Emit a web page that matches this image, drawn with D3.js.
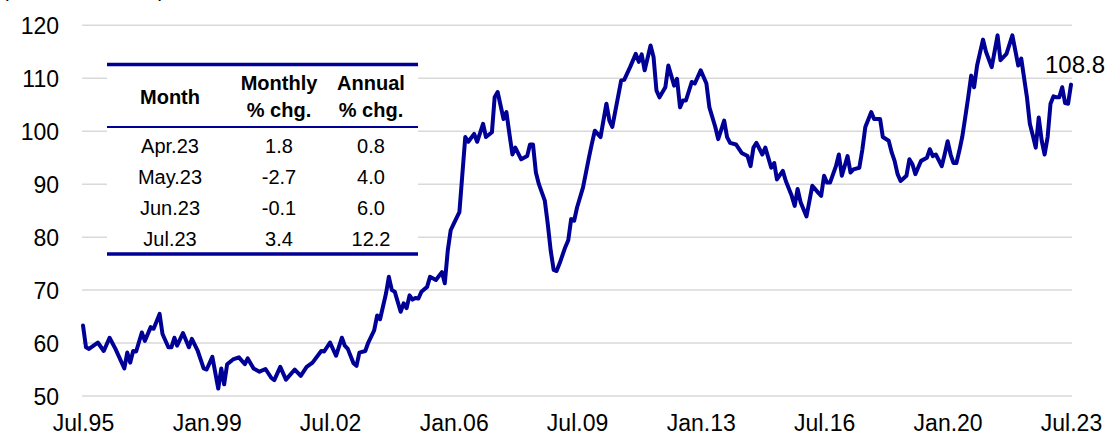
<!DOCTYPE html>
<meta charset="utf-8">
<script src="https://d3js.org/d3.v7.min.js"></script>
<style>
body { margin: 0; background-color: white; }
text { font-family: "Liberation Sans", Arial, sans-serif; fill: #000; }
</style>
<div id="chart"></div>
<script>
// monthly index (turning points)
var months = [
  "1995-07","1995-08","1995-09","1995-12","1996-02","1996-04","1996-06","1996-09","1996-10","1996-11","1996-12",
  "1997-01","1997-03","1997-04","1997-06","1997-07","1997-09","1997-10","1997-12",
  "1998-01","1998-02","1998-03","1998-05","1998-07","1998-08","1998-10","1998-12",
  "1999-01","1999-03","1999-05","1999-06","1999-07","1999-08","1999-10","1999-12",
  "2000-02","2000-03","2000-05","2000-07","2000-09","2000-11","2000-12",
  "2001-02","2001-04","2001-07","2001-09","2001-11",
  "2002-01","2002-04","2002-05","2002-07","2002-09","2002-11","2002-12",
  "2003-01","2003-03","2003-04","2003-05","2003-07","2003-08","2003-10","2003-11","2003-12",
  "2004-02","2004-03","2004-04","2004-05","2004-07","2004-08","2004-09","2004-10","2004-11","2004-12",
  "2005-01","2005-02","2005-04","2005-05","2005-07","2005-09","2005-10","2005-11","2005-12",
  "2006-01","2006-03","2006-04","2006-05","2006-06","2006-08","2006-09","2006-11","2006-12",
  "2007-02","2007-03","2007-04","2007-06","2007-07","2007-08","2007-09","2007-10","2007-12",
  "2008-02","2008-03","2008-04","2008-05","2008-06","2008-08","2008-09","2008-10","2008-11","2008-12",
  "2009-01","2009-03","2009-04","2009-05","2009-06","2009-07","2009-09","2009-11","2009-12",
  "2010-01","2010-03","2010-05","2010-06","2010-07","2010-10","2010-11",
  "2011-01","2011-03","2011-04","2011-05","2011-06","2011-08","2011-09","2011-10","2011-11",
  "2012-01","2012-02","2012-04","2012-05","2012-06","2012-07","2012-08","2012-10","2012-11",
  "2013-01","2013-03","2013-04","2013-06","2013-07","2013-09","2013-10","2013-11",
  "2014-01","2014-03","2014-05","2014-06","2014-07","2014-08","2014-10","2014-11",
  "2015-01","2015-02","2015-03","2015-05","2015-06","2015-08","2015-09","2015-10","2015-11",
  "2016-01","2016-03","2016-05","2016-06","2016-07","2016-08","2016-09","2016-11","2016-12",
  "2017-01","2017-03","2017-04","2017-05","2017-07","2017-08","2017-09","2017-11","2017-12",
  "2018-02","2018-03","2018-05","2018-06","2018-07","2018-08","2018-09","2018-11","2018-12",
  "2019-01","2019-02","2019-03","2019-04","2019-06","2019-07","2019-08","2019-09","2019-11","2019-12",
  "2020-01","2020-02","2020-03","2020-04","2020-05","2020-06","2020-07","2020-08","2020-09","2020-10","2020-11",
  "2021-01","2021-02","2021-04","2021-06","2021-07","2021-09","2021-11",
  "2022-01","2022-02","2022-04","2022-05","2022-06","2022-07","2022-08","2022-09","2022-10","2022-11","2022-12",
  "2023-01","2023-02","2023-03","2023-04","2023-05","2023-06","2023-07"
];
var index = [
  63.3,59.2,58.9,60.1,58.5,61.0,58.9,55.2,58.2,56.3,58.5,
  58.4,62.0,60.4,63.0,62.7,65.5,61.7,59.2,
  59.2,61.0,59.5,61.9,59.2,60.8,58.5,55.2,
  55.0,57.4,51.4,55.2,52.2,56.0,56.9,57.3,
  56.0,57.1,55.2,54.6,55.1,53.4,53.0,
  55.5,53.1,55.0,53.8,55.5,
  56.3,58.5,58.4,60.1,57.6,61.0,59.5,
  58.9,56.2,55.7,58.2,58.5,60.1,62.4,65.2,64.5,
  69.4,72.5,70.0,69.7,65.9,67.5,66.6,69.0,68.2,68.5,
  68.4,69.7,70.6,72.5,71.9,73.4,71.3,77.5,81.3,
  82.5,84.7,91.9,98.9,98.0,99.5,98.0,101.4,98.9,
  99.8,106.4,107.4,102.3,103.6,99.5,95.6,96.9,94.7,
  95.3,97.5,97.5,92.2,90.0,86.9,82.5,77.5,73.8,73.6,
  75.0,78.1,79.4,83.4,83.1,85.6,89.4,95.0,97.6,
  100.1,98.9,105.2,102.0,100.8,109.6,109.7,
  112.1,114.6,113.1,114.5,111.5,116.2,114.0,107.7,106.4,
  108.3,112.4,108.6,109.9,104.5,105.8,105.8,109.3,109.0,
  111.5,109.0,104.5,100.8,98.5,102.0,98.9,97.8,
  97.5,95.9,95.3,93.4,96.9,97.8,95.6,96.9,
  93.1,94.0,90.9,92.5,90.6,87.8,85.9,89.1,86.6,
  83.9,89.7,88.4,87.8,91.6,90.3,90.3,93.4,95.6,
  91.6,95.3,92.2,92.8,93.1,96.5,100.8,103.6,102.3,
  102.3,98.9,98.2,96.0,94.4,91.9,90.6,91.6,94.7,
  93.8,91.9,93.1,94.4,95.0,96.6,95.3,95.6,93.4,95.6,
  98.1,95.6,94.0,94.0,96.3,99.0,102.6,106.4,110.5,108.3,112.4,
  117.3,115.0,112.1,118.1,113.4,114.6,118.1,
  112.4,113.7,106.4,101.4,99.2,96.9,102.6,98.2,95.6,98.9,105.2,
  106.6,106.4,106.4,108.3,105.3,105.2,108.8
];

var xTickMonths = ["1995-07","1999-01","2002-07","2006-01","2009-07","2013-01","2016-07","2020-01","2023-07"];
var xTickLabels = ["Jul.95","Jan.99","Jul.02","Jan.06","Jul.09","Jan.13","Jul.16","Jan.20","Jul.23"];
var yTicks = [50, 60, 70, 80, 90, 100, 110, 120];

var tableHeader = [["Month"], ["Monthly", "% chg."], ["Annual", "% chg."]];
var tableMonths = ["Apr.23", "May.23", "Jun.23", "Jul.23"];
var tableMonthly = ["1.8", "-2.7", "-0.1", "3.4"];
var tableAnnual = ["0.8", "4.0", "6.0", "12.2"];

var lastLabel = "108.8";

var width = 1109, height = 436;
var navy = "#000096";
var parse = d3.timeParse("%Y-%m");

var data = months.map(function(m, i) { return {date: parse(m), value: index[i]}; });

var svg = d3.select("#chart").append("svg")
    .attr("width", width)
    .attr("height", height);

var x = d3.scaleTime()
    .domain([parse("1995-07"), parse("2023-07")])
    .range([83, 1071]);

var y = d3.scaleLinear()
    .domain([50, 120])
    .range([396, 25.3]);

// unit text, mostly cut off at the top edge like in the source
svg.append("text")
    .attr("x", 2)
    .attr("y", -3)
    .style("font-size", "20px")
    .text("(Index, 2010=100)");

// gridlines
svg.append("g")
  .selectAll("line")
  .data(yTicks)
  .enter().append("line")
    .attr("x1", 82)
    .attr("x2", 1072)
    .attr("y1", function(d) { return y(d); })
    .attr("y2", function(d) { return y(d); })
    .attr("stroke", "#d9d9d9")
    .attr("stroke-width", 1.5);

// y axis labels
var yAxis = d3.axisLeft(y).tickValues(yTicks).tickSize(0).tickPadding(0);
svg.append("g")
    .attr("transform", "translate(59,0)")
    .call(yAxis)
    .call(function(g) { g.select(".domain").remove(); })
    .selectAll("text")
      .attr("dy", "0.36em")
      .style("font-family", "Liberation Sans, Arial, sans-serif")
      .style("font-size", "23px")
      .attr("fill", "#000");

// x axis labels
var xAxis = d3.axisBottom(x)
    .tickValues(xTickMonths.map(parse))
    .tickFormat(function(d, i) { return xTickLabels[i]; })
    .tickSize(0).tickPadding(0);
svg.append("g")
    .attr("transform", "translate(0,414)")
    .call(xAxis)
    .call(function(g) { g.select(".domain").remove(); })
    .selectAll("text")
      .attr("dy", "0.74em")
      .style("font-family", "Liberation Sans, Arial, sans-serif")
      .style("font-size", "23px")
      .attr("fill", "#000");

// the line
var line = d3.line()
    .x(function(d) { return x(d.date); })
    .y(function(d) { return y(d.value); });

svg.append("path")
    .datum(data)
    .attr("d", line)
    .attr("fill", "none")
    .attr("stroke", navy)
    .attr("stroke-width", 4)
    .attr("stroke-linejoin", "round")
    .attr("stroke-linecap", "round");

var last = data[data.length - 1];
svg.append("text")
    .attr("x", x(last.date) - 26)
    .attr("y", y(last.value) - 12)
    .style("font-size", "24px")
    .text(lastLabel);

// inset table
var tbl = svg.append("g");
var tLeft = 107, tRight = 418;
tbl.append("rect")
    .attr("x", tLeft).attr("y", 60)
    .attr("width", tRight - tLeft).attr("height", 198)
    .attr("fill", "white");
tbl.append("line").attr("x1", tLeft).attr("x2", tRight).attr("y1", 64.5).attr("y2", 64.5)
    .attr("stroke", navy).attr("stroke-width", 3.5);
tbl.append("line").attr("x1", tLeft).attr("x2", tRight).attr("y1", 127).attr("y2", 127)
    .attr("stroke", navy).attr("stroke-width", 2);
tbl.append("line").attr("x1", tLeft).attr("x2", tRight).attr("y1", 254).attr("y2", 254)
    .attr("stroke", navy).attr("stroke-width", 3.5);

var colX = [170, 279, 371];
tableHeader.forEach(function(lines, c) {
  var t = tbl.append("text")
      .attr("text-anchor", "middle")
      .style("font-size", "20px")
      .style("font-weight", "bold");
  if (lines.length === 1) {
    t.attr("x", colX[c]).attr("y", 104).text(lines[0]);
  } else {
    lines.forEach(function(s, k) {
      t.append("tspan").attr("x", colX[c]).attr("y", 90 + k * 27).text(s);
    });
  }
});

var rows = tableMonths.map(function(m, i) { return [m, tableMonthly[i], tableAnnual[i]]; });
rows.forEach(function(r, i) {
  r.forEach(function(s, c) {
    tbl.append("text")
        .attr("x", colX[c])
        .attr("y", 153 + i * 31)
        .attr("text-anchor", "middle")
        .style("font-size", "20px")
        .text(s);
  });
});
</script>
